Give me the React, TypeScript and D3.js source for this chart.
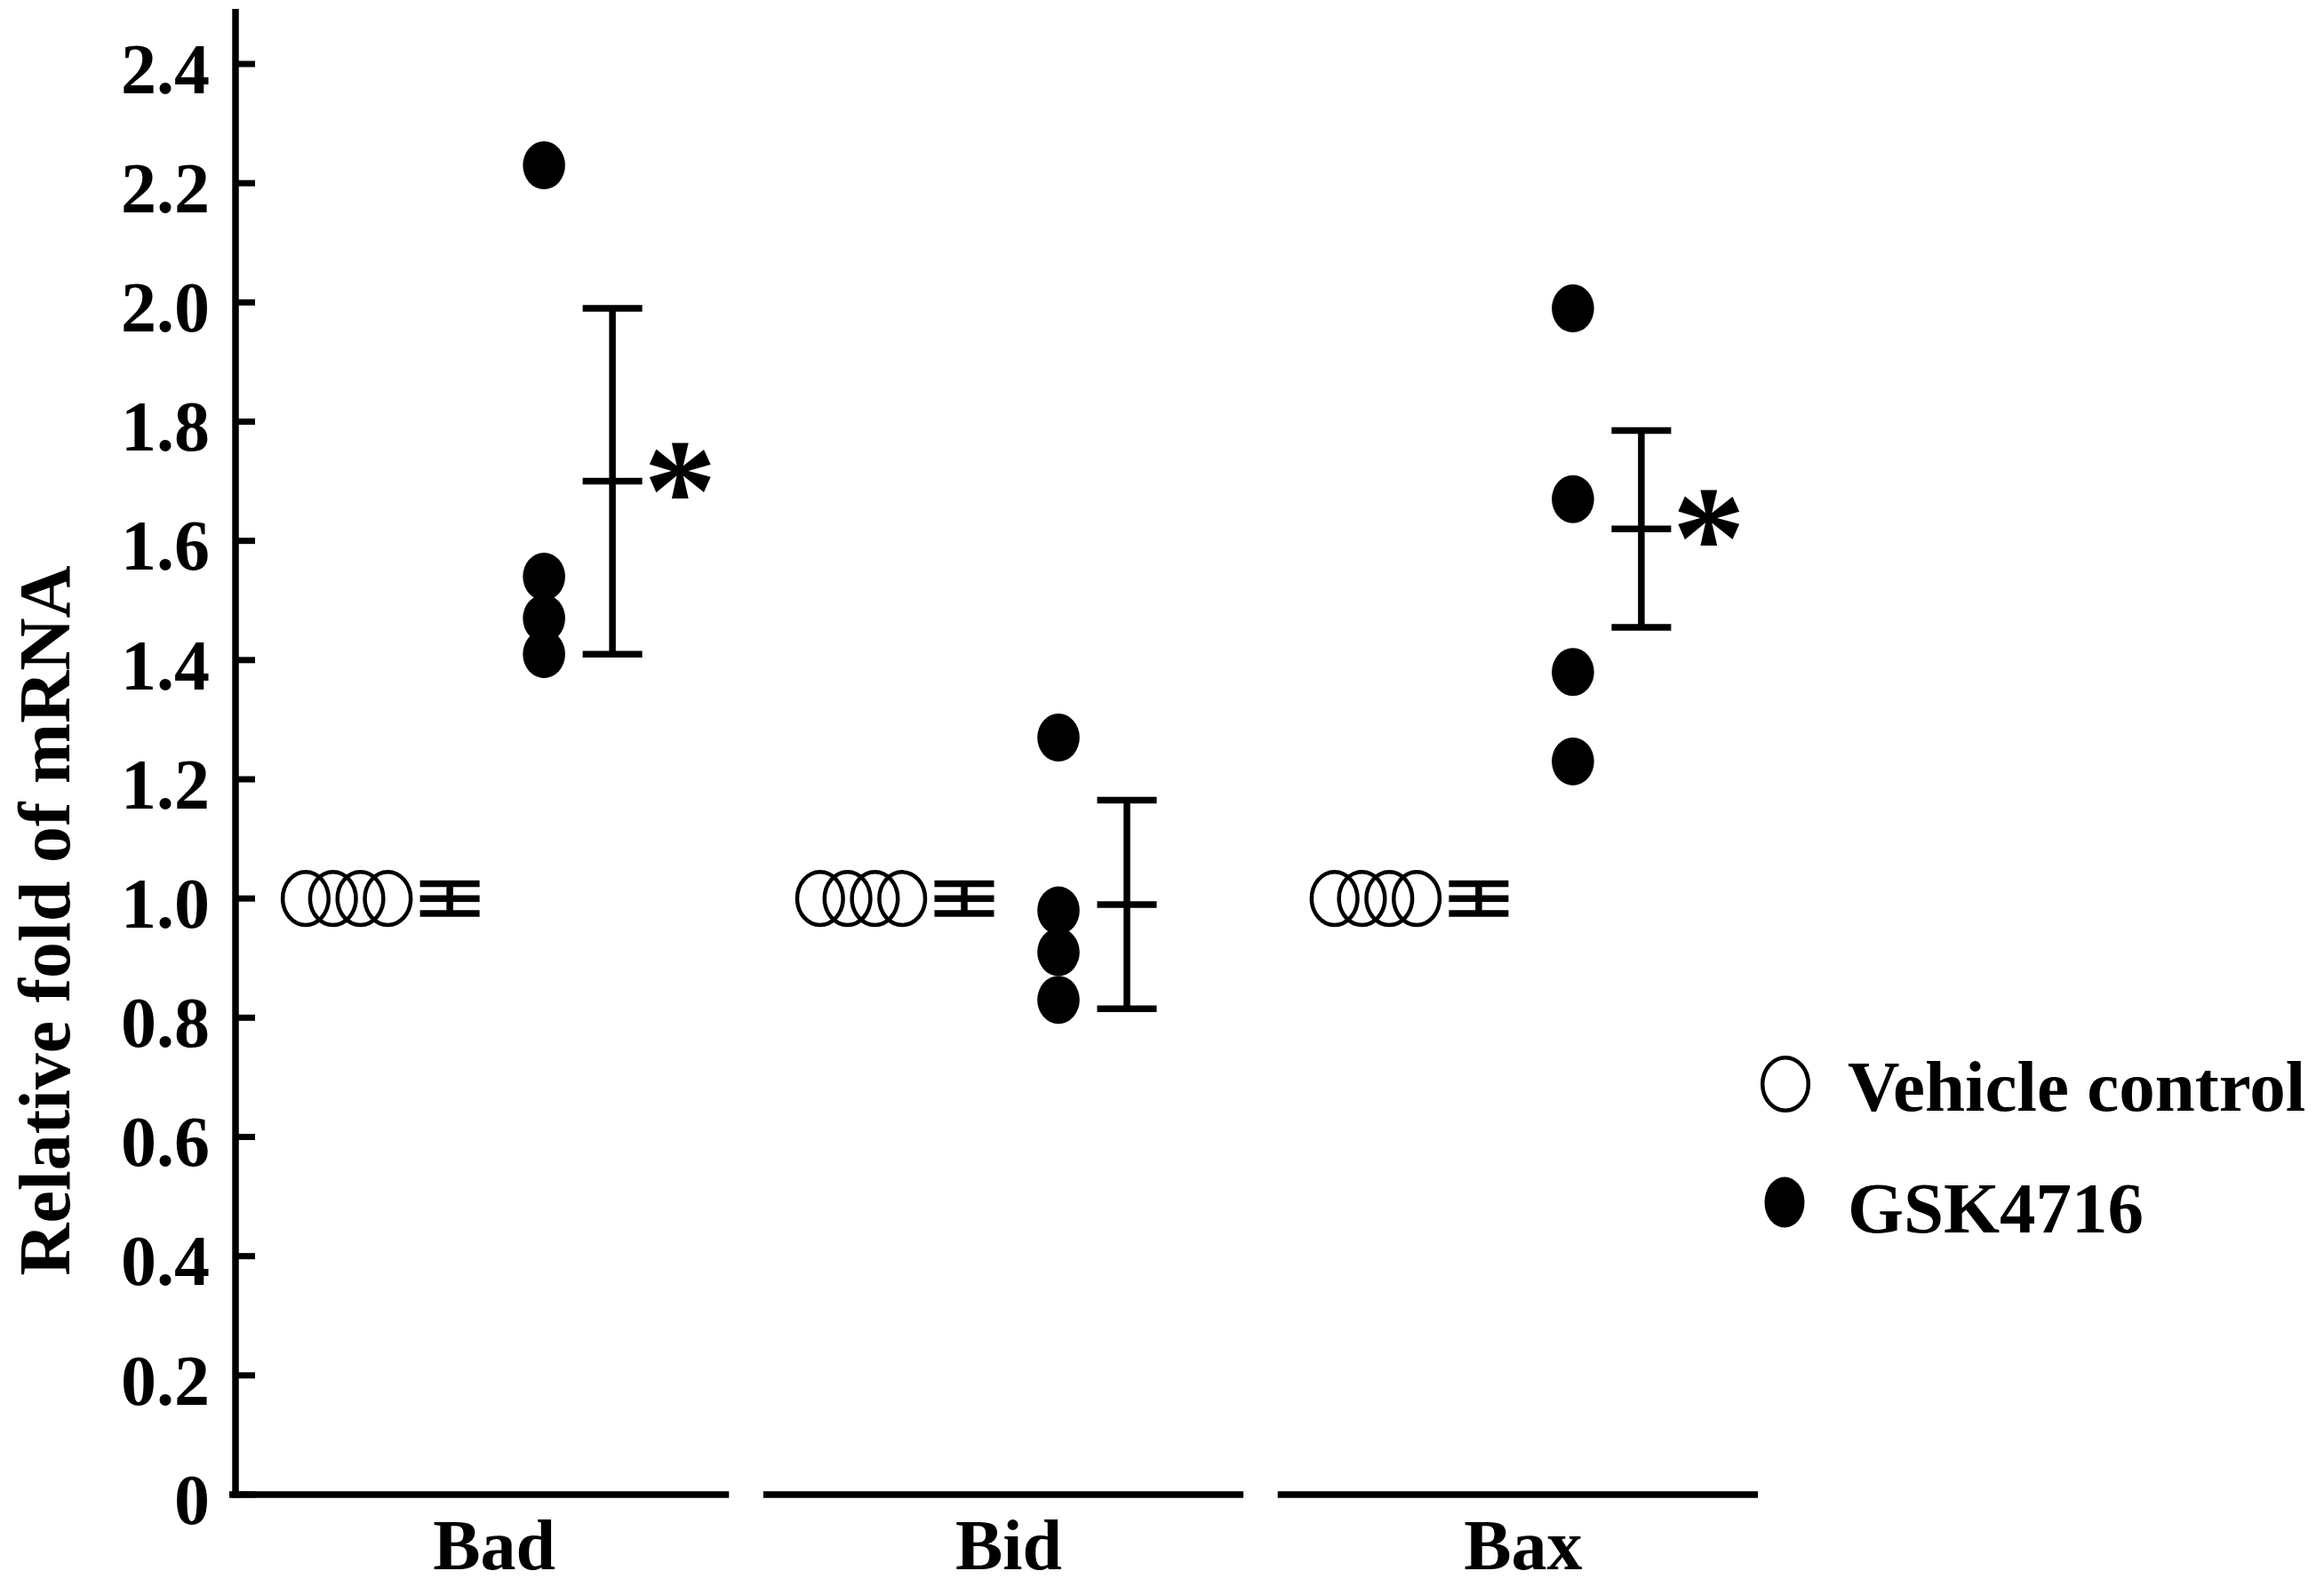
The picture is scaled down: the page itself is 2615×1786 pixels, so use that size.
import React, { useEffect } from "react";
import * as d3 from "d3";

// ---- data ----
const categories = ["Bad", "Bid", "Bax"];
const controlValues = [
  [1.0, 1.0, 1.0, 1.0],
  [1.0, 1.0, 1.0, 1.0],
  [1.0, 1.0, 1.0, 1.0],
];
const controlMean = [1.0, 1.0, 1.0];
const controlSD = [0.025, 0.025, 0.025];
const gskValues = [
  [2.23, 1.54, 1.47, 1.41],
  [1.27, 0.98, 0.91, 0.83],
  [1.99, 1.67, 1.38, 1.23],
];
const gskMean = [1.7, 0.99, 1.62];
const gskSD = [0.29, 0.175, 0.165];
const significance = ["*", "", "*"];
const yTicks = [0, 0.2, 0.4, 0.6, 0.8, 1.0, 1.2, 1.4, 1.6, 1.8, 2.0, 2.2, 2.4];
const yTickLabels = ["0", "0.2", "0.4", "0.6", "0.8", "1.0", "1.2", "1.4", "1.6", "1.8", "2.0", "2.2", "2.4"];
const legendLabels = ["Vehicle control", "GSK4716"];
const yTitle = "Relative fold of mRNA";

// ---- layout ----
const W = 2615;
const H = 1786;
const FONT = "'Liberation Serif', 'Times New Roman', Times, serif";
const axisX = 265;
const LW = 7.5;

export default function App() {
  useEffect(() => {
    document.body.style.margin = "0";
  }, []);

  const y = d3.scaleLinear().domain([0, 2.4]).range([1682, 72]);
  const x = d3
    .scaleBand<string>()
    .domain(categories)
    .range([280, 1978])
    .paddingInner(0.0667)
    .paddingOuter(0);
  const bw = x.bandwidth();
  const cx = (c: string) => (x(c) as number) + bw / 2;

  const off = { circles: -160, circleStep: 30.8, ctrlBar: -44, dots: 62, gskBar: 139, label: 6, star: 76 };
  const capHalf = 33.5;
  const openRx = 25.8;
  const openRy = 29.8;
  const dotRx = 23.8;
  const dotRy = 27;

  const errorBar = (bx: number, mean: number, sd: number, key: string) => (
    <g key={key} stroke="#000" strokeWidth={LW}>
      <line x1={bx} x2={bx} y1={y(mean + sd)} y2={y(mean - sd)} />
      <line x1={bx - capHalf} x2={bx + capHalf} y1={y(mean + sd)} y2={y(mean + sd)} />
      <line x1={bx - capHalf} x2={bx + capHalf} y1={y(mean)} y2={y(mean)} />
      <line x1={bx - capHalf} x2={bx + capHalf} y1={y(mean - sd)} y2={y(mean - sd)} />
    </g>
  );

  return (
    <svg width={W} height={H} style={{ display: "block", background: "#fff" }} fontFamily={FONT}>
      <rect x={0} y={0} width={W} height={H} fill="#fff" />

      {/* y axis */}
      <line x1={axisX} x2={axisX} y1={10} y2={y(0) + 4} stroke="#000" strokeWidth={LW} />
      {yTicks.map((t, i) => (
        <g key={"t" + i}>
          <line x1={axisX} x2={axisX + 22} y1={y(t)} y2={y(t)} stroke="#000" strokeWidth={7} />
          <text
            x={236}
            y={y(t)}
            dy="0.41em"
            textAnchor="end"
            fontSize={80}
            fontWeight="bold"
          >
            {yTickLabels[i]}
          </text>
        </g>
      ))}
      <text
        transform={`translate(78, 1036) rotate(-90)`}
        textAnchor="middle"
        fontSize={82}
        fontWeight="bold"
      >
        {yTitle}
      </text>

      {/* x axis segments and labels */}
      {categories.map((c, i) => (
        <g key={"x" + c}>
          <line
            x1={i === 0 ? axisX - 7 : (x(c) as number)}
            x2={(x(c) as number) + bw}
            y1={y(0)}
            y2={y(0)}
            stroke="#000"
            strokeWidth={LW}
          />
          <text x={cx(c) + off.label} y={1766} textAnchor="middle" fontSize={80} fontWeight="bold">
            {c}
          </text>
        </g>
      ))}

      {/* groups */}
      {categories.map((c, gi) => {
        const center = cx(c);
        const ctrlBarX = center + off.ctrlBar;
        const gskBarX = center + off.gskBar;
        return (
          <g key={"g" + c}>
            {controlValues[gi].map((v, k) => (
              <ellipse
                key={"c" + k}
                cx={center + off.circles + (k - 1.5) * off.circleStep}
                cy={y(v)}
                rx={openRx}
                ry={openRy}
                fill="none"
                stroke="#000"
                strokeWidth={4.5}
              />
            ))}
            {errorBar(ctrlBarX, controlMean[gi], controlSD[gi], "ce")}
            {gskValues[gi].map((v, k) => (
              <ellipse key={"d" + k} cx={center + off.dots} cy={y(v)} rx={dotRx} ry={dotRy} fill="#000" />
            ))}
            {errorBar(gskBarX, gskMean[gi], gskSD[gi], "ge")}
            {significance[gi] && (
              <text
                x={gskBarX + off.star}
                y={y(gskMean[gi]) + 66}
                textAnchor="middle"
                fontSize={165}
                fontWeight="bold"
              >
                {significance[gi]}
              </text>
            )}
          </g>
        );
      })}

      {/* legend */}
      <g>
        <ellipse cx={2009} cy={1220} rx={openRx} ry={openRy} fill="none" stroke="#000" strokeWidth={4.5} />
        <text x={2079} y={1250} fontSize={81} fontWeight="bold">
          {legendLabels[0]}
        </text>
        <ellipse cx={2008} cy={1353} rx={22.5} ry={28.5} fill="#000" />
        <text x={2079} y={1387} fontSize={81} fontWeight="bold">
          {legendLabels[1]}
        </text>
      </g>
    </svg>
  );
}
